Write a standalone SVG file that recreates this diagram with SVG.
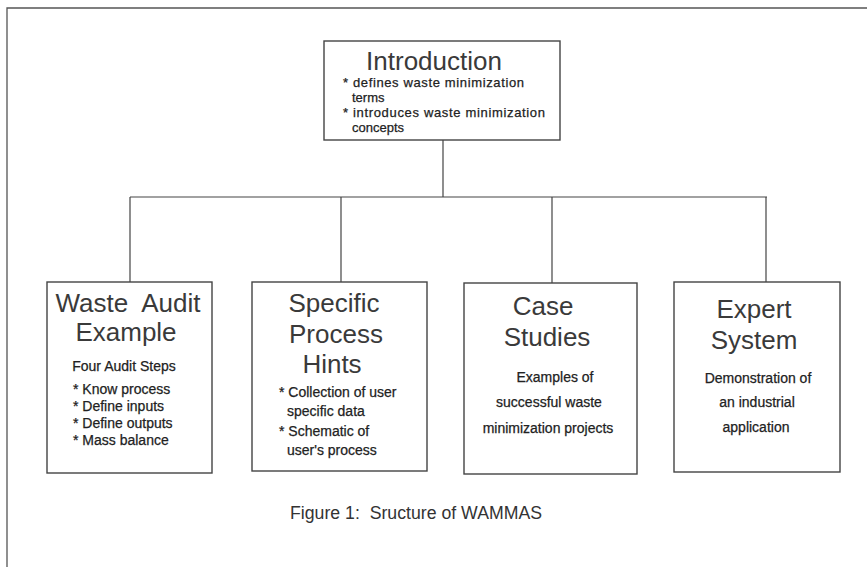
<svg xmlns="http://www.w3.org/2000/svg" width="867" height="567" viewBox="0 0 867 567">
<style>
.frame{fill:none;stroke:#555;stroke-width:1.3}
.box{fill:#fff;stroke:#444;stroke-width:1.4}
.conn{fill:none;stroke:#444;stroke-width:1.2}
.title{font-family:"Liberation Sans",Arial,sans-serif;font-size:26px;fill:#3a3a3a;text-anchor:middle}
.sm{font-family:"Liberation Sans",Arial,sans-serif;font-size:14px;fill:#222;stroke:#222;stroke-width:0.25}
.ism{font-family:"Liberation Sans",Arial,sans-serif;font-size:13px;fill:#222;stroke:#222;stroke-width:0.25}
.smc{font-family:"Liberation Sans",Arial,sans-serif;font-size:14px;fill:#222;stroke:#222;stroke-width:0.25;text-anchor:middle}
.cap{font-family:"Liberation Sans",Arial,sans-serif;font-size:18px;fill:#333}
</style>
<rect width="867" height="567" fill="#fff"/>
<path class="frame" d="M7,567 V8 H867"/>
<g id="connectors">
<line class="conn" x1="443" y1="140" x2="443" y2="197"/>
<line class="conn" x1="130" y1="197" x2="767" y2="197"/>
<line class="conn" x1="130" y1="197" x2="130" y2="282"/>
<line class="conn" x1="341" y1="197" x2="341" y2="282"/>
<line class="conn" x1="552" y1="197" x2="552" y2="283"/>
<line class="conn" x1="766" y1="197" x2="766" y2="282"/>
</g>
<g id="introduction">
<rect class="box" x="324" y="41" width="236" height="99"/>
<text class="title" x="434" y="70">Introduction</text>
<text class="ism" x="343" y="87" textLength="181" lengthAdjust="spacing">* defines waste minimization</text>
<text class="ism" x="352" y="102">terms</text>
<text class="ism" x="343" y="117" textLength="202" lengthAdjust="spacing">* introduces waste minimization</text>
<text class="ism" x="352" y="132">concepts</text>
</g>
<g id="waste-audit">
<rect class="box" x="47" y="282" width="165" height="191"/>
<text class="title" x="128" y="312" xml:space="preserve">Waste  Audit</text>
<text class="title" x="126" y="341">Example</text>
<text class="smc" x="124" y="371">Four Audit Steps</text>
<text class="sm" x="73" y="394">* Know process</text>
<text class="sm" x="73" y="411">* Define inputs</text>
<text class="sm" x="73" y="428">* Define outputs</text>
<text class="sm" x="73" y="445">* Mass balance</text>
</g>
<g id="specific-process">
<rect class="box" x="252" y="282" width="175" height="189"/>
<text class="title" x="334" y="312">Specific</text>
<text class="title" x="336" y="343">Process</text>
<text class="title" x="332" y="373">Hints</text>
<text class="sm" x="279" y="397">* Collection of user</text>
<text class="sm" x="287" y="416">specific data</text>
<text class="sm" x="279" y="436">* Schematic of</text>
<text class="sm" x="287" y="455">user's process</text>
</g>
<g id="case-studies">
<rect class="box" x="464" y="283" width="173" height="191"/>
<text class="title" x="543" y="315">Case</text>
<text class="title" x="547" y="346">Studies</text>
<text class="smc" x="555" y="382">Examples of</text>
<text class="smc" x="549" y="407">successful waste</text>
<text class="smc" x="548" y="433">minimization projects</text>
</g>
<g id="expert-system">
<rect class="box" x="674" y="282" width="166" height="190"/>
<text class="title" x="754" y="318">Expert</text>
<text class="title" x="754" y="349">System</text>
<text class="smc" x="758" y="383">Demonstration of</text>
<text class="smc" x="757" y="407">an industrial</text>
<text class="smc" x="756" y="432">application</text>
</g>
<text class="cap" x="290" y="519" xml:space="preserve" textLength="252" lengthAdjust="spacingAndGlyphs">Figure 1:  Sructure of WAMMAS</text>
</svg>
